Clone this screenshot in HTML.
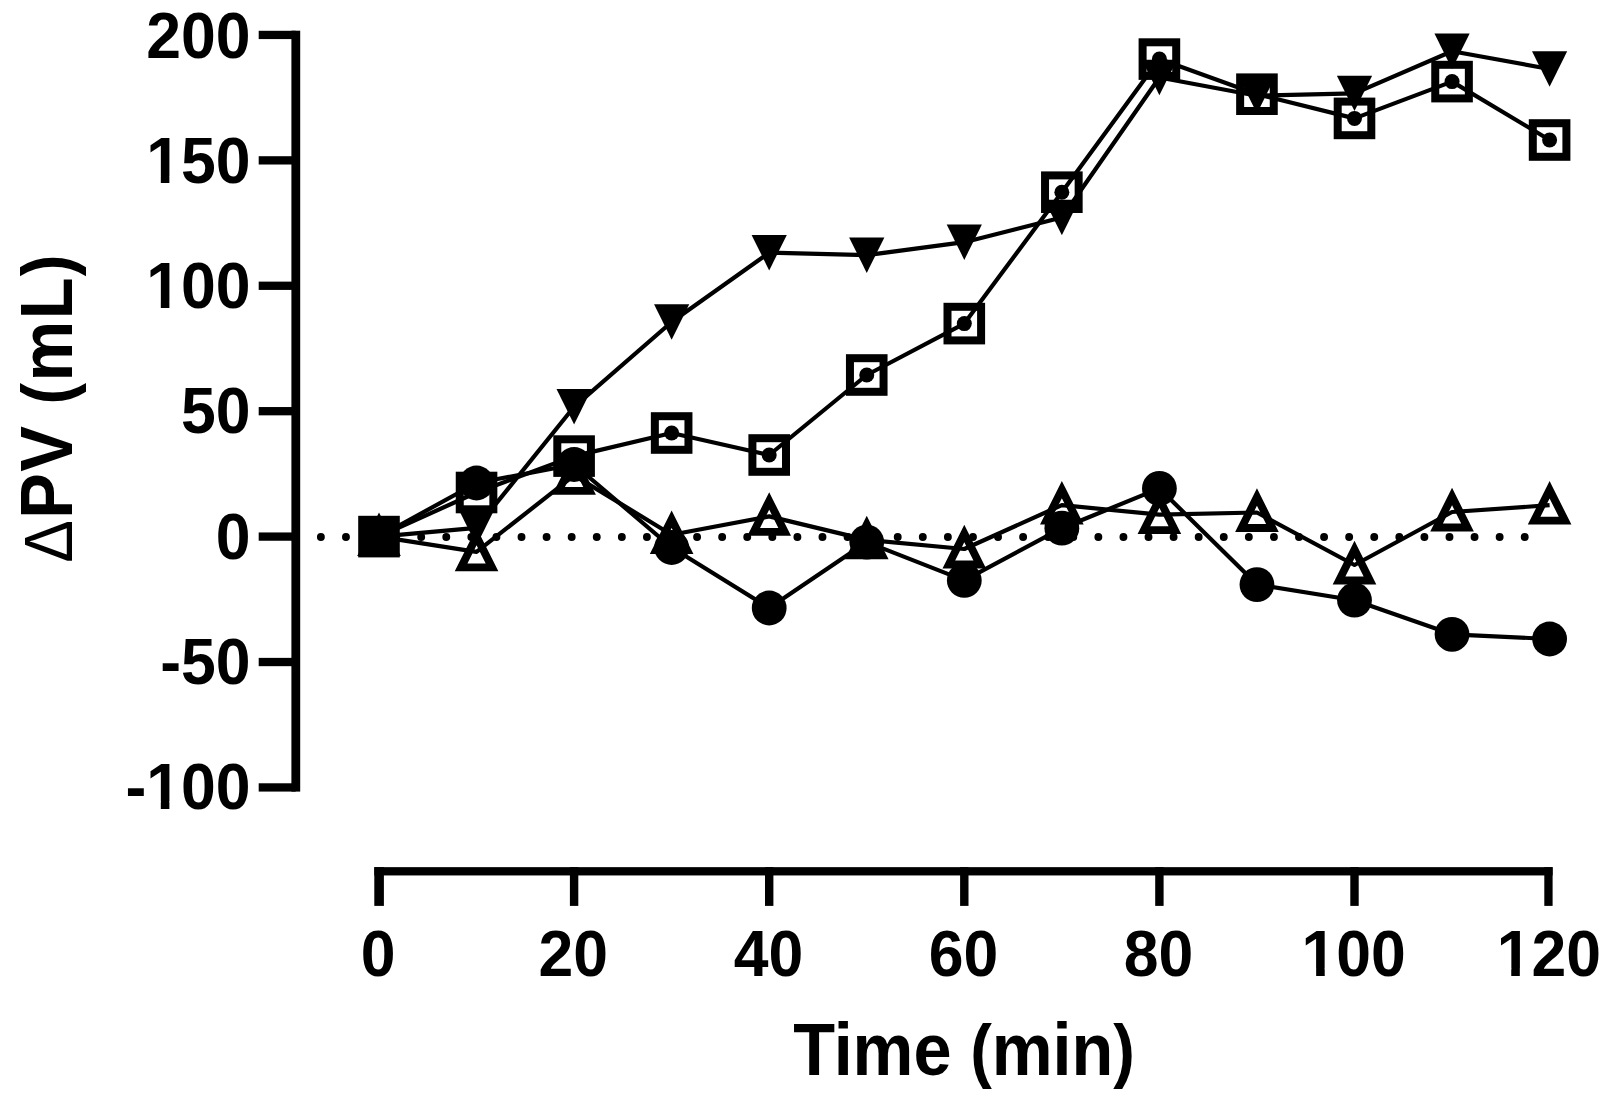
<!DOCTYPE html>
<html lang="en"><head><meta charset="utf-8"><title>Plasma volume change over time</title>
<style>html,body{margin:0;padding:0;background:#fff}body{width:1610px;height:1101px;overflow:hidden}svg{display:block}text{font-family:"Liberation Sans",Arial,sans-serif;font-weight:bold;fill:#000}</style></head><body>
<svg width="1610" height="1101" viewBox="0 0 1610 1101">
<rect width="1610" height="1101" fill="#fff"/>
<g fill="#000" stroke="none">
<rect x="291.4" y="30.7" width="8.8" height="760.90"/>
<rect x="258.7" y="30.79" width="37" height="8.3"/>
<rect x="258.7" y="156.21" width="37" height="8.3"/>
<rect x="258.7" y="281.62" width="37" height="8.3"/>
<rect x="258.7" y="407.04" width="37" height="8.3"/>
<rect x="258.7" y="532.45" width="37" height="8.3"/>
<rect x="258.7" y="657.87" width="37" height="8.3"/>
<rect x="258.7" y="783.28" width="37" height="8.3"/>
<rect x="374.3" y="867.15" width="1178.30" height="8.3"/>
<rect x="374.30" y="867.15" width="9.60" height="38.75"/>
<rect x="569.90" y="867.15" width="8.40" height="38.75"/>
<rect x="765.00" y="867.15" width="8.40" height="38.75"/>
<rect x="960.10" y="867.15" width="8.40" height="38.75"/>
<rect x="1155.20" y="867.15" width="8.40" height="38.75"/>
<rect x="1350.30" y="867.15" width="8.40" height="38.75"/>
<rect x="1544.30" y="867.15" width="8.30" height="38.75"/>
</g>
<text transform="translate(250.5,58.24) scale(1,1.040)" font-size="62.5" text-anchor="end">200</text>
<text transform="translate(250.5,183.32) scale(1,1.040)" font-size="62.5" text-anchor="end">150</text>
<text transform="translate(250.5,308.40) scale(1,1.040)" font-size="62.5" text-anchor="end">100</text>
<text transform="translate(250.5,433.48) scale(1,1.040)" font-size="62.5" text-anchor="end">50</text>
<text transform="translate(250.5,558.57) scale(1,1.040)" font-size="62.5" text-anchor="end">0</text>
<text transform="translate(250.5,683.65) scale(1,1.040)" font-size="62.5" text-anchor="end">-50</text>
<text transform="translate(250.5,808.73) scale(1,1.040)" font-size="62.5" text-anchor="end">-100</text>
<text transform="translate(378.20,975.8) scale(1,1.040)" font-size="62.5" text-anchor="middle">0</text>
<text transform="translate(573.30,975.8) scale(1,1.040)" font-size="62.5" text-anchor="middle">20</text>
<text transform="translate(768.40,975.8) scale(1,1.040)" font-size="62.5" text-anchor="middle">40</text>
<text transform="translate(963.50,975.8) scale(1,1.040)" font-size="62.5" text-anchor="middle">60</text>
<text transform="translate(1158.60,975.8) scale(1,1.040)" font-size="62.5" text-anchor="middle">80</text>
<text transform="translate(1353.70,975.8) scale(1,1.040)" font-size="62.5" text-anchor="middle">100</text>
<text transform="translate(1548.80,975.8) scale(1,1.040)" font-size="62.5" text-anchor="middle">120</text>
<text transform="translate(964,1074.8) scale(1,1.073)" font-size="68.5" text-anchor="middle" letter-spacing="-0.10">Time <tspan font-size="65" dy="-1.1">(</tspan><tspan dy="1.1">min</tspan><tspan font-size="65" dy="-1.1">)</tspan></text>
<text transform="translate(72.2,408) rotate(-90) scale(1,1.073)" font-size="68.5" text-anchor="middle" letter-spacing="1.30"><tspan font-weight="normal" font-size="64">Δ</tspan>PV <tspan font-size="65" dy="-1.1">(</tspan><tspan dy="1.1">mL</tspan><tspan font-size="65" dy="-1.1">)</tspan></text>
<rect x="149.02" y="175.92" width="11.79" height="8.6" fill="#fff"/>
<rect x="169.38" y="175.92" width="10.84" height="8.6" fill="#fff"/>
<rect x="149.02" y="301.00" width="11.79" height="8.6" fill="#fff"/>
<rect x="169.38" y="301.00" width="10.84" height="8.6" fill="#fff"/>
<rect x="149.02" y="801.33" width="11.79" height="8.6" fill="#fff"/>
<rect x="169.38" y="801.33" width="10.84" height="8.6" fill="#fff"/>
<rect x="1304.36" y="968.40" width="11.79" height="8.6" fill="#fff"/>
<rect x="1324.72" y="968.40" width="10.84" height="8.6" fill="#fff"/>
<rect x="1499.46" y="968.40" width="11.79" height="8.6" fill="#fff"/>
<rect x="1519.82" y="968.40" width="10.84" height="8.6" fill="#fff"/>
<line x1="320.88" y1="537" x2="1530.00" y2="537" stroke="#000" stroke-width="7.9" stroke-linecap="round" stroke-dasharray="0 25.08"/>
<g stroke="#000" stroke-width="4.20" fill="none" stroke-linejoin="round">
<polyline points="379.00,536.60 476.55,483.00 574.10,464.50 671.65,547.50 769.20,608.00 866.75,542.10 964.30,580.40 1061.85,528.20 1159.40,488.40 1256.95,584.60 1354.50,600.20 1452.05,634.30 1549.60,639.00"/>
<polyline points="379.00,536.60 476.55,551.90 574.10,475.40 671.65,534.70 769.20,516.40 866.75,539.90 964.30,549.00 1061.85,505.10 1159.40,514.70 1256.95,512.50 1354.50,565.00 1452.05,512.00 1549.60,505.20"/>
<polyline points="379.00,536.60 476.55,492.50 574.10,456.10 671.65,433.00 769.20,455.00 866.75,375.00 964.30,323.60 1061.85,192.20 1159.40,59.10 1256.95,94.20 1354.50,118.40 1452.05,81.60 1549.60,140.00"/>
<polyline points="379.00,536.60 476.55,527.80 574.10,406.80 671.65,322.00 769.20,252.70 866.75,255.20 964.30,242.20 1061.85,217.50 1159.40,77.50 1256.95,95.70 1354.50,93.40 1452.05,51.20 1549.60,69.00"/>
</g>
<g fill="#000" stroke="none">
<circle cx="379.00" cy="536.60" r="17.4"/>
<circle cx="476.55" cy="483.00" r="17.4"/>
<circle cx="574.10" cy="464.50" r="17.4"/>
<circle cx="671.65" cy="547.50" r="17.4"/>
<circle cx="769.20" cy="608.00" r="17.4"/>
<circle cx="866.75" cy="542.10" r="17.4"/>
<circle cx="964.30" cy="580.40" r="17.4"/>
<circle cx="1061.85" cy="528.20" r="17.4"/>
<circle cx="1159.40" cy="488.40" r="17.4"/>
<circle cx="1256.95" cy="584.60" r="17.4"/>
<circle cx="1354.50" cy="600.20" r="17.4"/>
<circle cx="1452.05" cy="634.30" r="17.4"/>
<circle cx="1549.60" cy="639.00" r="17.4"/>
<polygon points="361.40,518.90 396.60,518.90 379.00,554.30"/>
<polygon points="458.95,510.10 494.15,510.10 476.55,545.50"/>
<polygon points="556.50,389.10 591.70,389.10 574.10,424.50"/>
<polygon points="654.05,304.30 689.25,304.30 671.65,339.70"/>
<polygon points="751.60,235.00 786.80,235.00 769.20,270.40"/>
<polygon points="849.15,237.50 884.35,237.50 866.75,272.90"/>
<polygon points="946.70,224.50 981.90,224.50 964.30,259.90"/>
<polygon points="1044.25,199.80 1079.45,199.80 1061.85,235.20"/>
<polygon points="1141.80,59.80 1177.00,59.80 1159.40,95.20"/>
<polygon points="1239.35,78.00 1274.55,78.00 1256.95,113.40"/>
<polygon points="1336.90,75.70 1372.10,75.70 1354.50,111.10"/>
<polygon points="1434.45,33.50 1469.65,33.50 1452.05,68.90"/>
<polygon points="1532.00,51.30 1567.20,51.30 1549.60,86.70"/>
<circle cx="379.00" cy="536.60" r="7.5"/>
<circle cx="476.55" cy="492.50" r="7.5"/>
<circle cx="574.10" cy="456.10" r="7.5"/>
<circle cx="671.65" cy="433.00" r="7.5"/>
<circle cx="769.20" cy="455.00" r="7.5"/>
<circle cx="866.75" cy="375.00" r="7.5"/>
<circle cx="964.30" cy="323.60" r="7.5"/>
<circle cx="1061.85" cy="192.20" r="7.5"/>
<circle cx="1159.40" cy="59.10" r="7.5"/>
<circle cx="1256.95" cy="94.20" r="7.5"/>
<circle cx="1354.50" cy="118.40" r="7.5"/>
<circle cx="1452.05" cy="81.60" r="7.5"/>
<circle cx="1549.60" cy="140.00" r="7.5"/>
</g>
<g fill="none" stroke="#000" stroke-linejoin="miter" stroke-miterlimit="10">
<rect x="362.20" y="519.80" width="33.6" height="33.6" stroke-width="8"/>
<rect x="459.75" y="475.70" width="33.6" height="33.6" stroke-width="8"/>
<rect x="557.30" y="439.30" width="33.6" height="33.6" stroke-width="8"/>
<rect x="654.85" y="416.20" width="33.6" height="33.6" stroke-width="8"/>
<rect x="752.40" y="438.20" width="33.6" height="33.6" stroke-width="8"/>
<rect x="849.95" y="358.20" width="33.6" height="33.6" stroke-width="8"/>
<rect x="947.50" y="306.80" width="33.6" height="33.6" stroke-width="8"/>
<rect x="1045.05" y="175.40" width="33.6" height="33.6" stroke-width="8"/>
<rect x="1142.60" y="42.30" width="33.6" height="33.6" stroke-width="8"/>
<rect x="1240.15" y="77.40" width="33.6" height="33.6" stroke-width="8"/>
<rect x="1337.70" y="101.60" width="33.6" height="33.6" stroke-width="8"/>
<rect x="1435.25" y="64.80" width="33.6" height="33.6" stroke-width="8"/>
<rect x="1532.80" y="123.20" width="33.6" height="33.6" stroke-width="8"/>
<polygon points="379.00,521.10 394.50,552.10 363.50,552.10" stroke-width="7.8"/>
<polygon points="476.55,536.40 492.05,567.40 461.05,567.40" stroke-width="7.8"/>
<polygon points="574.10,459.90 589.60,490.90 558.60,490.90" stroke-width="7.8"/>
<polygon points="671.65,519.20 687.15,550.20 656.15,550.20" stroke-width="7.8"/>
<polygon points="769.20,500.90 784.70,531.90 753.70,531.90" stroke-width="7.8"/>
<polygon points="866.75,524.40 882.25,555.40 851.25,555.40" stroke-width="7.8"/>
<polygon points="964.30,533.50 979.80,564.50 948.80,564.50" stroke-width="7.8"/>
<polygon points="1061.85,489.60 1077.35,520.60 1046.35,520.60" stroke-width="7.8"/>
<polygon points="1159.40,499.20 1174.90,530.20 1143.90,530.20" stroke-width="7.8"/>
<polygon points="1256.95,497.00 1272.45,528.00 1241.45,528.00" stroke-width="7.8"/>
<polygon points="1354.50,549.50 1370.00,580.50 1339.00,580.50" stroke-width="7.8"/>
<polygon points="1452.05,496.50 1467.55,527.50 1436.55,527.50" stroke-width="7.8"/>
<polygon points="1549.60,489.70 1565.10,520.70 1534.10,520.70" stroke-width="7.8"/>
</g>
</svg></body></html>
